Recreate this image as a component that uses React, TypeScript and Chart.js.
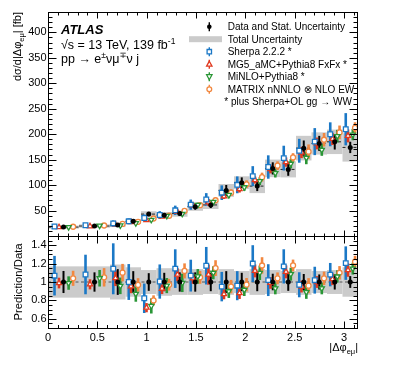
import React, { useEffect, useRef } from 'react';
import { Chart, registerables } from 'chart.js';

Chart.register(...registerables);

const FONT = '"Liberation Sans", Arial, "DejaVu Sans", sans-serif';

// ---------- data ----------
const binEdges = [0, 0.3142, 0.6283, 0.7854, 0.9425, 1.0996, 1.2566, 1.4137, 1.5708, 1.7279, 1.885, 2.042, 2.1991, 2.3562, 2.5133, 2.6704, 2.8274, 2.9845, 3.1416];
const xTickValues = [0, 0.5, 1, 1.5, 2, 2.5, 3];
const xTickLabels = ['0', '0.5', '1', '1.5', '2', '2.5', '3'];
const yTickValues = [50, 100, 150, 200, 250, 300, 350, 400];
const ratioTickValues = [0.6, 0.8, 1, 1.2, 1.4];
const ratioTickLabels = ['0.6', '0.8', '1', '1.2', '1.4'];

const dataValues = [17.5, 19.6, 21.6, 28.8, 43.0, 41.0, 44.0, 57.6, 61.0, 89.6, 104.7, 98.0, 132.8, 130.8, 172.6, 181.8, 185.0, 174.0];
const dataStatRel = [0.12, 0.105, 0.14, 0.118, 0.096, 0.1, 0.105, 0.105, 0.1, 0.118, 0.1, 0.1, 0.09, 0.096, 0.087, 0.082, 0.082, 0.064];
const totalUncRel = [0.17, 0.17, 0.19, 0.16, 0.13, 0.15, 0.14, 0.14, 0.13, 0.14, 0.12, 0.14, 0.13, 0.12, 0.14, 0.12, 0.13, 0.16];

const sherpaValues = [18.7, 21.2, 24.7, 28.8, 35.4, 41.2, 50.4, 61.6, 71.8, 85.1, 100.5, 117.6, 135.5, 153.0, 167.4, 185.4, 199.8, 209.7];
const sherpaErrRel = [0.215, 0.215, 0.277, 0.195, 0.16, 0.186, 0.21, 0.173, 0.204, 0.16, 0.158, 0.2, 0.173, 0.186, 0.136, 0.146, 0.127, 0.182];
const mg5Values = [17.3, 19.1, 22.5, 27.4, 31.0, 38.0, 47.5, 59.9, 65.9, 77.7, 92.1, 109.8, 131.5, 145.2, 164.0, 181.8, 190.6, 196.6];
const mg5ErrRel = [0.058, 0.055, 0.086, 0.073, 0.05, 0.058, 0.07, 0.06, 0.11, 0.055, 0.064, 0.07, 0.064, 0.07, 0.064, 0.064, 0.064, 0.073];
const minloValues = [17.3, 20.4, 20.7, 25.1, 31.8, 39.4, 43.6, 61.1, 67.1, 80.6, 95.8, 107.8, 123.5, 141.9, 153.6, 169.1, 196.1, 199.2];
const minloErrRel = [0.073, 0.09, 0.09, 0.086, 0.082, 0.082, 0.1, 0.08, 0.07, 0.073, 0.067, 0.078, 0.064, 0.07, 0.073, 0.064, 0.067, 0.064];
const matrixValues = [18.2, 20.6, 23.8, 27.9, 34.4, 39.8, 49.3, 60.5, 70.2, 85.1, 101.6, 115.6, 138.1, 154.3, 165.7, 189.1, 203.5, 212.3];
const matrixErrRel = [0.082, 0.1, 0.095, 0.073, 0.055, 0.064, 0.082, 0.07, 0.086, 0.073, 0.073, 0.09, 0.064, 0.064, 0.082, 0.073, 0.073, 0.064];

const legendLabels = ['Data and Stat. Uncertainty', 'Total Uncertainty', 'Sherpa 2.2.2 *', 'MG5_aMC+Pythia8 FxFx *', 'MiNLO+Pythia8 *', 'MATRIX nNNLO \u2297 NLO EW', '* plus Sherpa+OL gg \u2192 WW'];

// ---------- styles ----------
const BAND = '#cbcbcb';
type Series = { values: number[]; err: number[]; color: string; style: string; rot: number; off: number; r: number };
const predictions: Series[] = [
  { values: sherpaValues, err: sherpaErrRel, color: '#1b78c6', style: 'rect', rot: 0, off: -0.29, r: 3.3 },
  { values: mg5Values, err: mg5ErrRel, color: '#e0391f', style: 'triangle', rot: 0, off: -0.145, r: 3.0 },
  { values: minloValues, err: minloErrRel, color: '#2a9636', style: 'triangle', rot: 180, off: 0.165, r: 3.0 },
  { values: matrixValues, err: matrixErrRel, color: '#f2873f', style: 'circle', rot: 0, off: 0.31, r: 2.5 },
];

const xPos = (off: number) => dataValues.map((_, i) => binEdges[i] + (0.5 + off) * (binEdges[i + 1] - binEdges[i]));

type Part = { t: string; s?: number; dy?: number; f?: string };
function drawRich(ctx: CanvasRenderingContext2D, parts: Part[], x: number, y: number, base: number, align: 'left' | 'right' | 'center') {
  let w = 0;
  const items = parts.map((p) => {
    const font = `${p.f ?? ''} ${p.s ?? base}px ${FONT}`;
    ctx.font = font;
    const mw = ctx.measureText(p.t).width;
    w += mw;
    return { ...p, font, mw };
  });
  let cx = align === 'left' ? x : align === 'right' ? x - w : x - w / 2;
  ctx.textAlign = 'left';
  ctx.textBaseline = 'alphabetic';
  for (const it of items) {
    ctx.font = it.font;
    ctx.fillText(it.t, cx, y + (it.dy ?? 0));
    cx += it.mw;
  }
}

function vbar(ctx: CanvasRenderingContext2D, x: number, y0: number, y1: number, color: string, lw: number) {
  ctx.strokeStyle = color;
  ctx.lineWidth = lw;
  ctx.beginPath();
  ctx.moveTo(x, y0);
  ctx.lineTo(x, y1);
  ctx.stroke();
}

function marker(ctx: CanvasRenderingContext2D, kind: string, x: number, y: number, color: string) {
  ctx.save();
  ctx.lineWidth = 1.3;
  ctx.strokeStyle = color;
  ctx.fillStyle = '#fff';
  ctx.beginPath();
  if (kind === 'square') ctx.rect(x - 2.2, y - 2.2, 4.4, 4.4);
  else if (kind === 'up') { ctx.moveTo(x, y - 3); ctx.lineTo(x + 2.7, y + 2); ctx.lineTo(x - 2.7, y + 2); ctx.closePath(); }
  else if (kind === 'down') { ctx.moveTo(x, y + 3); ctx.lineTo(x + 2.7, y - 2); ctx.lineTo(x - 2.7, y - 2); ctx.closePath(); }
  else if (kind === 'circle') ctx.arc(x, y, 2.4, 0, Math.PI * 2);
  else if (kind === 'dot') { ctx.arc(x, y, 2.3, 0, Math.PI * 2); ctx.fillStyle = '#000'; }
  ctx.fill();
  if (kind !== 'dot') ctx.stroke();
  ctx.restore();
}

const decorPlugin = {
  id: 'atlasDecor',
  beforeDatasetsDraw(chart: any) {
    const { ctx } = chart;
    const xs = chart.scales.x, ys = chart.scales.y, yr = chart.scales.yr;
    const panels = [
      { s: ys, val: (i: number, f: number) => dataValues[i] * f },
      { s: yr, val: (_i: number, f: number) => f },
    ];
    panels.forEach(({ s, val }, pi) => {
      ctx.save();
      ctx.beginPath();
      ctx.rect(xs.left, s.top, xs.right - xs.left, s.bottom - s.top);
      ctx.clip();
      // total uncertainty band
      ctx.fillStyle = BAND;
      dataValues.forEach((_, i) => {
        const x0 = xs.getPixelForValue(binEdges[i]);
        const x1 = xs.getPixelForValue(binEdges[i + 1]);
        const yt = s.getPixelForValue(val(i, 1 + totalUncRel[i]));
        const yb = s.getPixelForValue(val(i, 1 - totalUncRel[i]));
        ctx.fillRect(x0, yt, x1 - x0, yb - yt);
      });
      // dashed central lines
      ctx.strokeStyle = pi === 0 ? '#222' : '#555';
      ctx.lineWidth = 1;
      ctx.setLineDash([3, 2.5]);
      if (pi === 0) {
        dataValues.forEach((d, i) => {
          const y = s.getPixelForValue(d);
          ctx.beginPath();
          ctx.moveTo(xs.getPixelForValue(binEdges[i]), y);
          ctx.lineTo(xs.getPixelForValue(binEdges[i + 1]), y);
          ctx.stroke();
        });
      } else {
        const y = s.getPixelForValue(1);
        ctx.beginPath();
        ctx.moveTo(xs.left, y);
        ctx.lineTo(xs.right, y);
        ctx.stroke();
      }
      ctx.setLineDash([]);
      // prediction error bars
      predictions.forEach((p) => {
        const px = xPos(p.off);
        p.values.forEach((v, i) => {
          const c = pi === 0 ? v : v / dataValues[i];
          const e = pi === 0 ? p.err[i] * dataValues[i] : p.err[i];
          const x = xs.getPixelForValue(px[i]);
          vbar(ctx, x, s.getPixelForValue(c + e), s.getPixelForValue(c - e), p.color, 2.6);
        });
      });
      // data error bars
      const dx = xPos(0);
      dataValues.forEach((d, i) => {
        const x = xs.getPixelForValue(dx[i]);
        vbar(ctx, x, s.getPixelForValue(val(i, 1 + dataStatRel[i])), s.getPixelForValue(val(i, 1 - dataStatRel[i])), '#000', 2);
      });
      ctx.restore();
    });
  },
  afterDraw(chart: any) {
    const { ctx } = chart;
    const xs = chart.scales.x, ys = chart.scales.y, yr = chart.scales.yr;
    const L = Math.round(xs.left) + 0.5, R = Math.round(xs.right) - 0.5;
    ctx.save();
    // frames
    ctx.strokeStyle = '#000';
    ctx.lineWidth = 1;
    [ys, yr].forEach((s) => {
      ctx.strokeRect(L, Math.round(s.top) + 0.5, R - L, Math.round(s.bottom) - Math.round(s.top));
    });
    // x ticks
    const xMinor: number[] = [];
    for (let k = 0; k <= 31; k++) xMinor.push(k / 10);
    const tick = (x0: number, y0: number, x1: number, y1: number) => {
      ctx.beginPath(); ctx.moveTo(x0, y0); ctx.lineTo(x1, y1); ctx.stroke();
    };
    [ys, yr].forEach((s, pi) => {
      const top = Math.round(s.top) + 0.5, bot = Math.round(s.bottom) + 0.5;
      const maj = pi === 0 ? 6 : 7, min = pi === 0 ? 3 : 3.5;
      xMinor.forEach((v) => {
        const x = Math.round(xs.getPixelForValue(v)) + 0.5;
        const len = Math.abs(v * 2 - Math.round(v * 2)) < 1e-6 ? maj : min;
        tick(x, bot, x, bot - len);
        tick(x, top, x, top + len);
      });
      // y ticks
      const ymin = s.min, ymax = s.max;
      const step = pi === 0 ? 10 : 0.05;
      for (let v = ymin; v <= ymax + 1e-9; v += step) {
        const y = Math.round(s.getPixelForValue(v)) + 0.5;
        const isMaj = pi === 0 ? Math.abs(v / 50 - Math.round(v / 50)) < 1e-6 : Math.abs((v - 0.6) / 0.2 - Math.round((v - 0.6) / 0.2)) < 1e-6;
        const len = isMaj ? 8 : 4;
        tick(L, y, L + len, y);
        tick(R, y, R - len, y);
      }
    });

    ctx.fillStyle = '#000';
    // ATLAS label
    drawRich(ctx, [{ t: 'ATLAS', f: 'bold italic' }], 61, 34, 13, 'left');
    drawRich(ctx, [{ t: '\u221As = 13 TeV, 139 fb' }, { t: '-1', s: 8.5, dy: -5 }], 61, 48.5, 12.5, 'left');
    drawRich(ctx, [{ t: 'pp \u2192 e' }, { t: '\u00B1', s: 8.5, dy: -5 }, { t: '\u03BD\u03BC' }, { t: '\u2213', s: 8.5, dy: -5 }, { t: '\u03BD j' }], 61, 63, 12.5, 'left');

    // axis titles
    drawRich(ctx, [{ t: '|\u0394' }, { t: '\u03C6' }, { t: 'e\u03BC', s: 7.5, dy: 3 }, { t: '|' }], R + 0.5, 351, 11, 'right');
    ctx.save();
    ctx.translate(20.5, Math.round(ys.top));
    ctx.rotate(-Math.PI / 2);
    drawRich(ctx, [{ t: 'd\u03C3/d|\u0394' }, { t: '\u03C6' }, { t: 'e\u03BC', s: 7.5, dy: 3 }, { t: '| [fb]' }], 0, 0, 11, 'right');
    ctx.restore();
    ctx.save();
    ctx.translate(21.5, (yr.top + yr.bottom) / 2);
    ctx.rotate(-Math.PI / 2);
    drawRich(ctx, [{ t: 'Prediction/Data' }], 0, 0, 11.3, 'center');
    ctx.restore();

    // legend
    const mx = 209.3, tx = 227.7, y0 = 26.7, dy = 12.5;
    const kinds = ['dot', 'band', 'square', 'up', 'down', 'circle'];
    const cols = ['#000', BAND, ...predictions.map((p) => p.color)];
    legendLabels.forEach((lab, i) => {
      const y = y0 + i * dy;
      if (i < 6) {
        const k = kinds[i];
        if (k === 'band') {
          ctx.fillStyle = BAND;
          ctx.fillRect(189, y - 3, 33, 6);
        } else {
          vbar(ctx, mx, y - 4.5, y + 4.5, cols[i], 1.4);
          marker(ctx, k, mx, y, cols[i]);
        }
      }
      ctx.fillStyle = '#000';
      drawRich(ctx, [{ t: lab }], i === 6 ? 224.3 : tx, y + 3.6, 10, 'left');
    });
    ctx.restore();
  },
};

export default function App() {
  const ref = useRef<HTMLCanvasElement | null>(null);
  useEffect(() => {
    if (!ref.current) return;
    const datasets: any[] = [];
    const dx = xPos(0);
    // data first so it is drawn on top
    datasets.push({ data: dataValues.map((v, i) => ({ x: dx[i], y: v })), yAxisID: 'y', pointStyle: 'circle', pointRadius: 2.5, pointBackgroundColor: '#000', pointBorderColor: '#000', pointBorderWidth: 0, showLine: false });
    datasets.push({ data: dataValues.map((_, i) => ({ x: dx[i], y: 1 })), yAxisID: 'yr', pointStyle: 'circle', pointRadius: 2.5, pointBackgroundColor: '#000', pointBorderColor: '#000', pointBorderWidth: 0, showLine: false });
    predictions.forEach((p) => {
      const px = xPos(p.off);
      const common = { pointStyle: p.style, pointRotation: p.rot, pointRadius: p.r, pointBackgroundColor: '#fff', pointBorderColor: p.color, pointBorderWidth: 1.3, showLine: false };
      datasets.push({ ...common, data: p.values.map((v, i) => ({ x: px[i], y: v })), yAxisID: 'y' });
      datasets.push({ ...common, data: p.values.map((v, i) => ({ x: px[i], y: v / dataValues[i] })), yAxisID: 'yr' });
    });

    const tickFont = { size: 11, family: FONT };
    const chart = new Chart(ref.current, {
      type: 'scatter',
      data: { datasets },
      plugins: [decorPlugin],
      options: {
        animation: false,
        responsive: false,
        events: [],
        layout: { padding: { left: 0, right: 49, top: 12, bottom: 0 } },
        plugins: { legend: { display: false }, tooltip: { enabled: false } },
        scales: {
          x: {
            type: 'linear', position: 'bottom', min: 0, max: 3.1416,
            grid: { display: false, drawTicks: false }, border: { display: false },
            afterBuildTicks: (s: any) => { s.ticks = xTickValues.map((v) => ({ value: v })); },
            ticks: { color: '#000', font: tickFont, padding: 3, maxRotation: 0, autoSkip: false, callback: (_v: any, i: number) => xTickLabels[i] },
            afterFit: (s: any) => { s.height = 37; },
          },
          y: {
            type: 'linear', position: 'left', stack: 'panels', stackWeight: 224, weight: 2, min: 0, max: 440,
            grid: { display: false, drawTicks: false }, border: { display: false },
            afterBuildTicks: (s: any) => { s.ticks = yTickValues.map((v) => ({ value: v })); },
            ticks: { color: '#000', font: tickFont, padding: 1.5, autoSkip: false, callback: (v: any) => String(v) },
            afterFit: (s: any) => { s.width = 48; },
          },
          yr: {
            type: 'linear', position: 'left', stack: 'panels', stackWeight: 92, weight: 1, min: 0.5, max: 1.5,
            grid: { display: false, drawTicks: false }, border: { display: false },
            afterBuildTicks: (s: any) => { s.ticks = ratioTickValues.map((v) => ({ value: v })); },
            ticks: { color: '#000', font: tickFont, padding: 1.5, autoSkip: false, callback: (_v: any, i: number) => ratioTickLabels[i] },
            afterFit: (s: any) => { s.width = 48; },
          },
        },
      } as any,
    });
    return () => chart.destroy();
  }, []);
  return (
    <div style={{ position: 'absolute', left: 0, top: 0, width: 407, height: 365, background: '#fff' }}>
      <canvas ref={ref} width={407} height={365} style={{ display: 'block' }} />
    </div>
  );
}
